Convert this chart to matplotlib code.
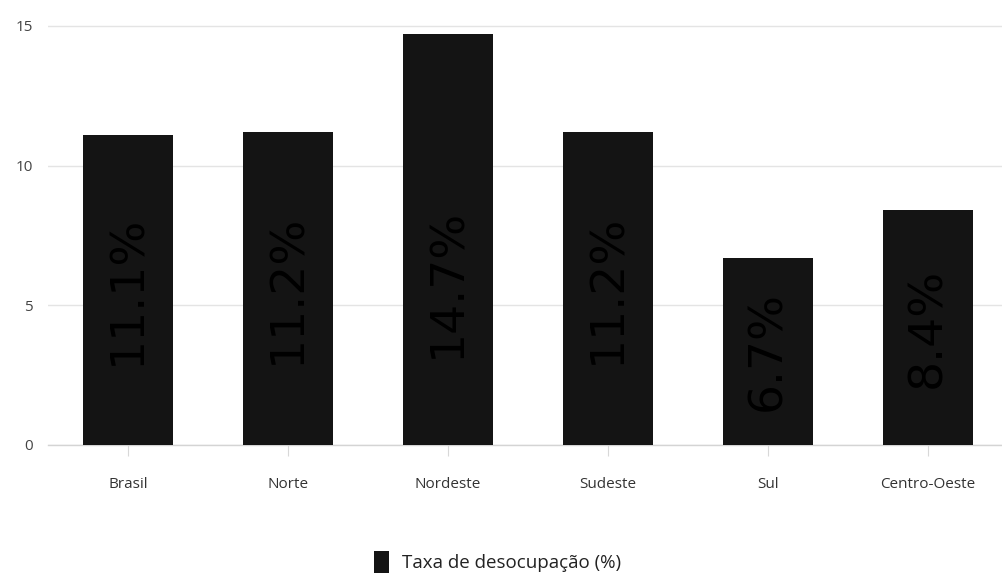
import matplotlib
matplotlib.use("Agg")
import matplotlib.pyplot as plt
from matplotlib import font_manager

# Regional unemployment rates
regions = ["Brasil", "Norte", "Nordeste", "Sudeste", "Sul", "Centro-Oeste"]
rates = [11.1, 11.2, 14.7, 11.2, 6.7, 8.4]
rate_labels = ["11.1%", "11.2%", "14.7%", "11.2%", "6.7%", "8.4%"]
y_ticks = [0, 5, 10, 15]
series_name = "Taxa de desocupação (%)"

available = {f.name for f in font_manager.fontManager.ttflist}
narrow = next((f for f in ["Liberation Sans Narrow", "Open Sans", "DejaVu Sans"] if f in available), "DejaVu Sans")

fig = plt.figure(figsize=(10.03, 5.80), dpi=100)
ax = fig.add_axes([48 / 1003, 135 / 580, 955 / 1003, 420 / 580])

x = list(range(len(regions)))
ax.bar(x, rates, width=0.5625, color="#141414", zorder=3, label=series_name)

for xi, v, lab in zip(x, rates, rate_labels):
    ax.text(xi, min(v / 2, 5.8), lab, rotation=90, ha="center", va="center",
            fontsize=34, color="#000000", family="DejaVu Sans", zorder=4)

ax.set_xlim(-0.5, -0.5 + 955 / 160)
ax.set_ylim(0, 15.03)
ax.set_yticks(y_ticks)
ax.set_xticks(x)
ax.set_xticklabels(regions, family=narrow, fontsize=11, color="#333333")
for t in ax.get_yticklabels():
    t.set_family(narrow)
    t.set_fontsize(11)
    t.set_color("#444444")

ax.yaxis.grid(True, color="#e4e4e4", linewidth=1.0, zorder=0)
ax.set_axisbelow(True)
ax.tick_params(axis="y", length=0, pad=11)
ax.tick_params(axis="x", length=8, color="#d8d8d8", pad=15)
for side in ["top", "right", "left"]:
    ax.spines[side].set_visible(False)
ax.spines["bottom"].set_color("#d4d4d4")
ax.spines["bottom"].set_linewidth(1.0)

fig.legend(loc="center", bbox_to_anchor=(0.496, 0.031), frameon=False,
           prop={"family": narrow, "size": 13.5}, handlelength=0.8,
           handleheight=1.4, handletextpad=0.7, labelcolor="#222222")

fig.savefig("out.png", dpi=100, facecolor="white")
